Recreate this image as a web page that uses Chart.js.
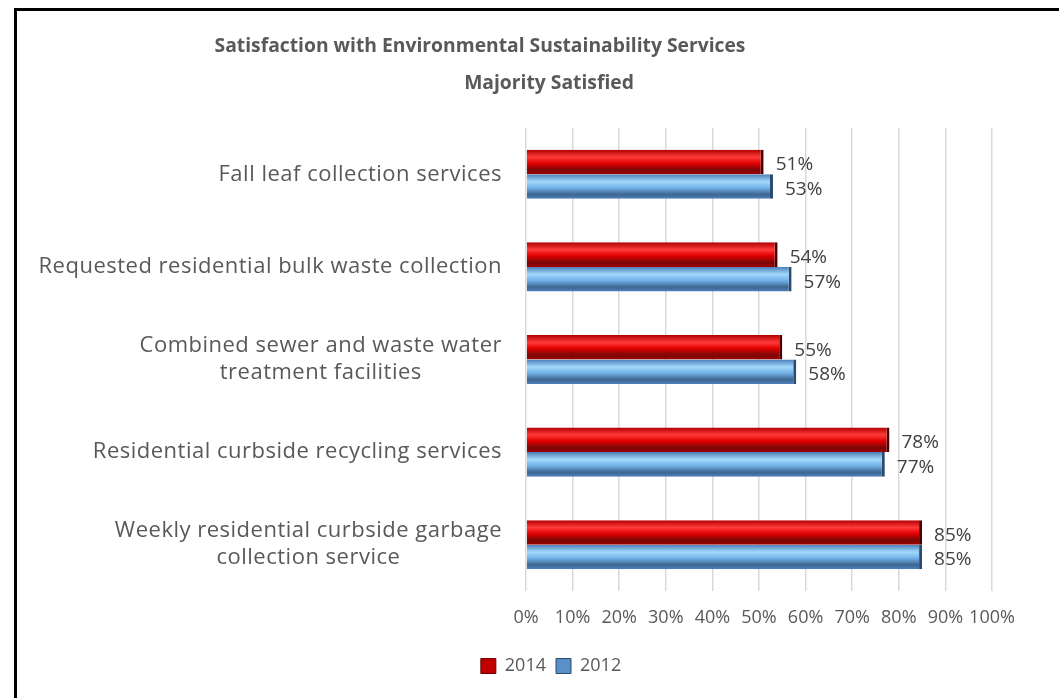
<!DOCTYPE html>
<html>
<head>
<meta charset="utf-8">
<script src="https://cdn.jsdelivr.net/npm/chart.js@4/dist/chart.umd.min.js"></script>
<style>
  html, body { margin: 0; padding: 0; background: #fff; overflow: hidden; }
  #wrap { position: relative; width: 1059px; height: 698px; }
  #frame { position: absolute; left: 14px; top: 8px; width: 1100px; height: 760px; border: 3px solid #000; box-sizing: border-box; pointer-events: none; }
</style>
</head>
<body>
<div id="wrap">
  <canvas id="satChart" width="1059" height="698"></canvas>
  <div id="frame"></div>
</div>
<script>
const categories = [
    'Fall leaf collection services',
    'Requested residential bulk waste collection',
    ['Combined sewer and waste water', 'treatment facilities'],
    'Residential curbside recycling services',
    ['Weekly residential curbside garbage', 'collection service']
];
const seriesNames = ['2014', '2012'];
const values2014 = [51, 54, 55, 78, 85];
const values2012 = [53, 57, 58, 77, 85];
const titleLines = ['Satisfaction with Environmental Sustainability Services', 'Majority Satisfied'];

const FONT = "'Open Sans', 'Noto Sans', sans-serif";
const GREY = '#595959';
const CAT_PCT = 0.53;

const redStops = [[0, '#b00000'], [0.3, '#ff3a3a'], [0.55, '#e00000'], [0.82, '#7a0808'], [1, '#a00000']];
const blueStops = [[0, '#4a7fb8'], [0.3, '#a3d8fb'], [0.55, '#72b2e8'], [0.82, '#3d6690'], [1, '#4f81bd']];

// vertical gradient across each bar's thickness, so the bars look rounded
function barFill(stops, flat) {
    return (ctx) => {
        const chart = ctx.chart;
        const y = chart.scales.y;
        if (!y || ctx.type !== 'data') return flat;
        const cat = Math.abs(y.getPixelForValue(1) - y.getPixelForValue(0));
        const group = cat * CAT_PCT;
        const size = group / 2;
        const top = y.getPixelForValue(ctx.dataIndex) - group / 2 + ctx.datasetIndex * size;
        const g = chart.ctx.createLinearGradient(0, top, 0, top + size);
        stops.forEach(([o, c]) => g.addColorStop(o, c));
        return g;
    };
}

// title drawn as two lines, each centred on its own
const titlePlugin = {
    id: 'twoLineTitle',
    afterDraw(chart) {
        const c = chart.ctx;
        c.save();
        c.font = 'bold 19.3px ' + FONT;
        c.fillStyle = GREY;
        c.textAlign = 'center';
        c.textBaseline = 'alphabetic';
        c.fillText(titleLines[0], 480, 52);
        c.fillText(titleLines[1], 549, 89);
        c.restore();
    }
};

// category names: block right-aligned to the axis, lines centred inside the block
const categoryLabels = {
    id: 'categoryLabels',
    afterDraw(chart) {
        const c = chart.ctx;
        const y = chart.scales.y;
        const right = chart.chartArea.left - 24;
        c.save();
        c.font = '22px ' + FONT;
        c.letterSpacing = '0.5px';
        c.fillStyle = GREY;
        c.textAlign = 'center';
        c.textBaseline = 'middle';
        categories.forEach((label, i) => {
            const lines = Array.isArray(label) ? label : [label];
            const w = Math.max(...lines.map(l => c.measureText(l).width));
            const cx = right - w / 2;
            const lh = 27;
            const cy = y.getPixelForValue(i);
            lines.forEach((l, k) => {
                c.fillText(l, cx, cy + (k - (lines.length - 1) / 2) * lh);
            });
        });
        c.restore();
    }
};

// percentage labels at the end of each bar
const valueLabels = {
    id: 'valueLabels',
    afterDatasetsDraw(chart) {
        const c = chart.ctx;
        c.save();
        c.font = '19px ' + FONT;
        c.fillStyle = '#404040';
        c.textAlign = 'left';
        c.textBaseline = 'middle';
        chart.data.datasets.forEach((ds, di) => {
            chart.getDatasetMeta(di).data.forEach((el, i) => {
                c.fillText(ds.data[i] + '%', el.x + 12, el.y + 3);
            });
        });
        c.restore();
    }
};

new Chart(document.getElementById('satChart'), {
    type: 'bar',
    data: {
        labels: categories,
        datasets: [{
            label: seriesNames[0],
            data: values2014,
            backgroundColor: barFill(redStops, '#c00000'),
            borderColor: '#4a0000',
            borderWidth: { right: 3, left: 0, top: 0, bottom: 0 },
            borderSkipped: false
        }, {
            label: seriesNames[1],
            data: values2012,
            backgroundColor: barFill(blueStops, '#4f81bd'),
            borderColor: '#2a4a6e',
            borderWidth: { right: 3, left: 0, top: 0, bottom: 0 },
            borderSkipped: false
        }]
    },
    options: {
        indexAxis: 'y',
        responsive: false,
        animation: false,
        layout: { padding: { left: 110, right: 67, top: 128, bottom: 13 } },
        datasets: { bar: { categoryPercentage: CAT_PCT, barPercentage: 1 } },
        scales: {
            x: {
                min: 0,
                max: 100,
                ticks: {
                    stepSize: 10,
                    padding: 16,
                    color: GREY,
                    maxRotation: 0,
                    minRotation: 0,
                    autoSkip: false,
                    font: { family: FONT, size: 18 },
                    callback: v => v + '%'
                },
                grid: { color: '#d9d9d9', lineWidth: 1.5, drawTicks: false },
                border: { display: false },
                afterFit(scale) { scale.height = 56; }
            },
            y: {
                ticks: { display: false },
                grid: { display: false },
                border: { display: false },
                afterFit(scale) { scale.width = 416; }
            }
        },
        plugins: {
            legend: {
                position: 'bottom',
                labels: {
                    color: GREY,
                    font: { family: FONT, size: 18 },
                    boxWidth: 15,
                    boxHeight: 15,
                    padding: 10,
                    generateLabels: () => [
                        { text: seriesNames[0], fillStyle: '#c00000', strokeStyle: '#6a0000', fontColor: GREY, lineWidth: 1, datasetIndex: 0 },
                        { text: seriesNames[1], fillStyle: '#5b8fc7', strokeStyle: '#2a4a6e', fontColor: GREY, lineWidth: 1, datasetIndex: 1 }
                    ]
                }
            },
            title: { display: false },
            tooltip: { enabled: false }
        }
    },
    plugins: [titlePlugin, categoryLabels, valueLabels]
});
</script>
</body>
</html>
